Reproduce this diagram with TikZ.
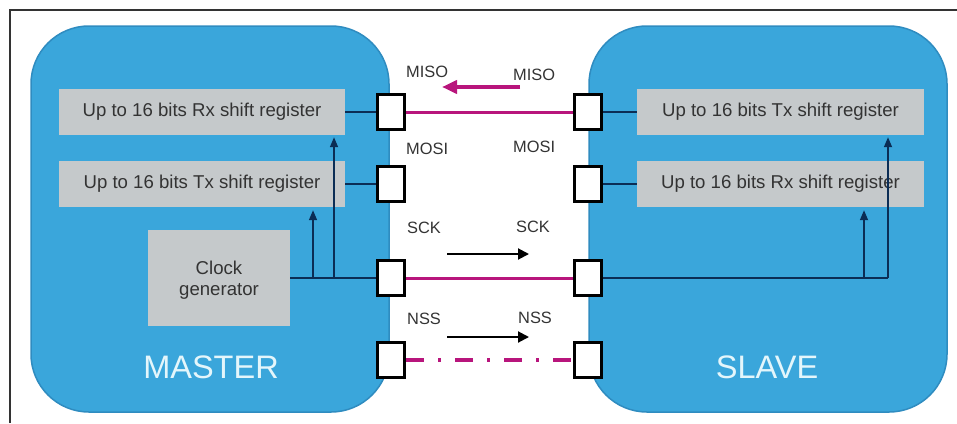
\documentclass[tikz,border=0pt]{standalone}
\usepackage{fontspec}
\setmainfont{Liberation Sans}
\usetikzlibrary{arrows.meta}
\definecolor{chipblue}{HTML}{3AA6DB}
\definecolor{chipedge}{HTML}{2F8CC0}
\definecolor{regfill}{HTML}{C5C9CB}
\definecolor{wire}{HTML}{0B2D55}
\definecolor{busline}{HTML}{B8157C}
\definecolor{labeltext}{HTML}{333333}
\definecolor{chiptext}{HTML}{E4F6FB}
\definecolor{frameline}{HTML}{333333}

\begin{document}
\begin{tikzpicture}[x=1pt,y=-1pt,
  chip/.style={draw=chipedge, line width=1.5pt, fill=chipblue, rounded corners=58pt,
    minimum width=358pt, minimum height=386pt, inner sep=0pt},
  chipname/.style={anchor=base, text=chiptext, inner sep=0pt,
    font=\fontsize{32.5}{36}\selectfont},
  reg/.style={fill=regfill, minimum width=286pt, minimum height=46pt, inner sep=0pt,
    text=labeltext, font=\fontsize{18.6}{22}\selectfont, align=center},
  pin/.style={draw=black, line width=3pt, fill=white, minimum width=27pt,
    minimum height=35pt, inner sep=0pt},
  pinlabel/.style={anchor=base west, inner sep=0pt, text=labeltext,
    font=\fontsize{16.4}{18}\selectfont},
  wireline/.style={draw=wire, line width=1.6pt},
  wirearrow/.style={wireline, -{Triangle[length=10pt,width=8pt]}},
  busstyle/.style={draw=busline, line width=3pt},
  busdash/.style={draw=busline, line width=4.5pt,
    dash pattern=on 18pt off 14pt on 3pt off 14pt},
  dirarrow/.style={draw=black, line width=2pt, -{Triangle[length=11pt,width=11pt]}},
  misoarrow/.style={draw=busline, line width=4pt, -{Triangle[length=15pt,width=13pt]}}
]
\useasboundingbox (0,0) rectangle (957,423);

% outer frame (top and left edges)
\draw[frameline, line width=1.5pt] (10,423) -- (10,10) -- (957,10);

% the two devices
\node[chip] (master) at (210,219) {};
\node[chip] (slave) at (768,219) {};
\node[chipname] (mastername) at (211,378) {MASTER};
\node[chipname] (slavename) at (767,378) {SLAVE};

% master blocks
\node[reg] (mrx) at (202,112) {Up to 16 bits Rx shift register};
\node[reg] (mtx) at (202,184) {Up to 16 bits Tx shift register};
\node[reg, minimum width=142pt, minimum height=96pt, text depth=0pt] (clk) at (219,278)
  {Clock\\[-1pt]generator};

% slave blocks
\node[reg, minimum width=287pt] (stx) at (780.5,112) {Up to 16 bits Tx shift register};
\node[reg, minimum width=287pt] (srx) at (780.5,184) {Up to 16 bits Rx shift register};

% bus lines between the pins
\draw[busstyle] (391,112) -- (587.5,112);
\draw[busstyle] (391,278) -- (587.5,278);
\draw[busdash] (406,360) -- (571,360);

% pins
\node[pin] (mp1) at (391,112) {};
\node[pin] (mp2) at (391,184) {};
\node[pin] (mp3) at (391,278) {};
\node[pin] (mp4) at (391,360) {};
\node[pin] (sp1) at (587.5,112) {};
\node[pin] (sp2) at (587.5,184) {};
\node[pin] (sp3) at (587.5,278) {};
\node[pin] (sp4) at (587.5,360) {};

% pin labels
\node[pinlabel] (lmiso) at (406,77) {MISO};
\node[pinlabel] (rmiso) at (513,80) {MISO};
\node[pinlabel] (lmosi) at (406,154) {MOSI};
\node[pinlabel] (rmosi) at (513,152) {MOSI};
\node[pinlabel] (lsck) at (407,233) {SCK};
\node[pinlabel] (rsck) at (516,232) {SCK};
\node[pinlabel] (lnss) at (407,324) {NSS};
\node[pinlabel] (rnss) at (518,323) {NSS};

% direction arrows
\coordinate (misoA) at (520,87);
\coordinate (misoB) at (442,87);
\draw[misoarrow] (misoA) -- (misoB);
\coordinate (sckA) at (447,254);
\coordinate (sckB) at (529,254);
\draw[dirarrow] (sckA) -- (sckB);
\coordinate (nssA) at (447,337);
\coordinate (nssB) at (529,337);
\draw[dirarrow] (nssA) -- (nssB);

% master internal wiring
\draw[wireline] (mrx.east) -- (mp1.west);
\draw[wireline] (mtx.east) -- (mp2.west);
\draw[wireline] (clk.east) -- (mp3.west);
\coordinate (mj1) at (313,278);
\coordinate (mj2) at (334,278);
\draw[wirearrow] (mj1) -- ([yshift=-3pt]mj1 |- mtx.south);
\draw[wirearrow] (mj2) -- ([yshift=-2pt]mj2 |- mrx.south);

% slave internal wiring
\draw[wireline] (sp1.east) -- (stx.west);
\draw[wireline] (sp2.east) -- (srx.west);
\coordinate (sj1) at (864,278);
\coordinate (sj2) at (888,278);
\draw[wireline] (sp3.east) -- (sj2);
\draw[wirearrow] (sj1) -- ([yshift=-3pt]sj1 |- srx.south);
\draw[wirearrow] (sj2) -- ([yshift=-2pt]sj2 |- stx.south);
\end{tikzpicture}
\end{document}
